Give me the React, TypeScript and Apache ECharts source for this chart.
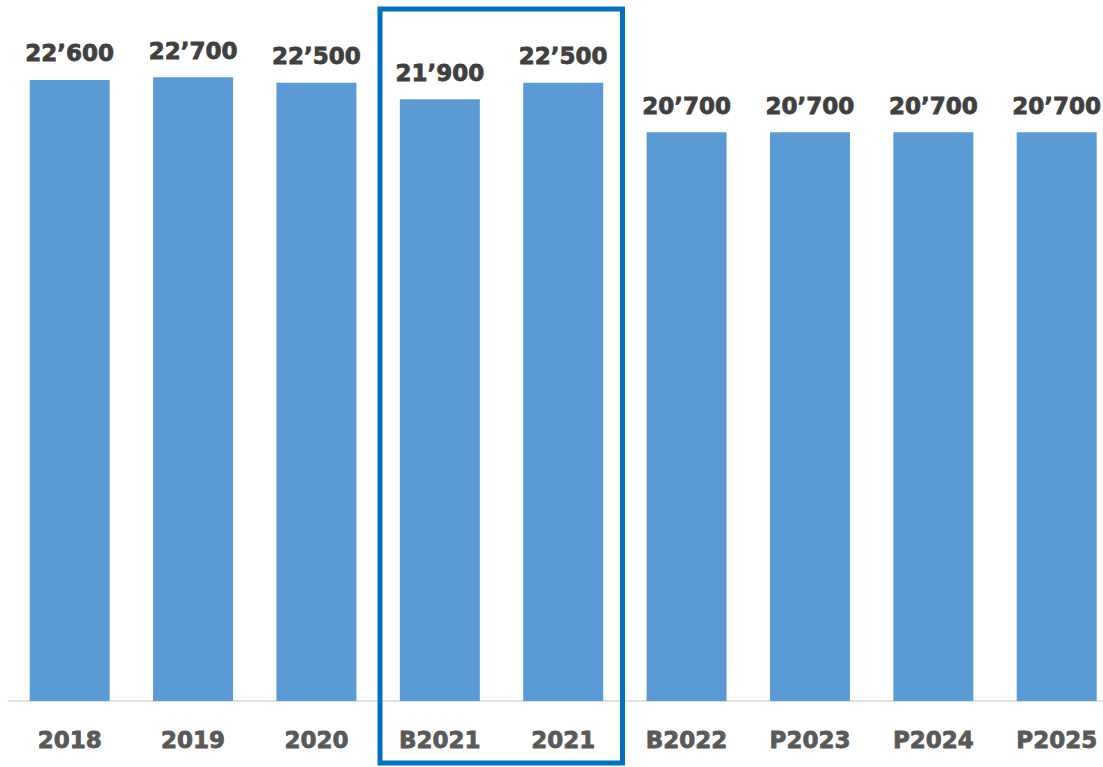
import React, { useEffect, useRef } from "react";
import * as echarts from "echarts";

const categories = ["2018", "2019", "2020", "B2021", "2021", "B2022", "P2023", "P2024", "P2025"];
const values = [22600, 22700, 22500, 21900, 22500, 20700, 20700, 20700, 20700];

const fmt = (v: number) => {
  const s = String(Math.round(v));
  return s.replace(/\B(?=(\d{3})+(?!\d))/g, "\u2019");
};

export default function App() {
  const ref = useRef<HTMLDivElement>(null);
  useEffect(() => {
    document.body.style.margin = "0";
    const chart = echarts.init(ref.current!, null, { renderer: "svg" });
    chart.setOption({
      animation: false,
      backgroundColor: "#ffffff",
      grid: { left: 8, top: 14, width: 1110.4, bottom: 66, containLabel: false, outerBoundsMode: "none" },
      xAxis: {
        type: "category",
        data: categories,
        axisLine: { show: true, lineStyle: { color: "#d9d9d9", width: 1.5 } },
        axisTick: { show: false },
        axisLabel: {
          color: "#595959",
          fontFamily: "DejaVu Sans",
          fontWeight: "bold",
          fontSize: 23,
          margin: 27,
          interval: 0,
          textBorderColor: "#595959",
          textBorderWidth: 0.8,
        },
      },
      yAxis: {
        type: "value",
        min: 0,
        max: 25000,
        show: false,
        splitLine: { show: false },
      },
      series: [
        {
          type: "bar",
          data: values,
          barWidth: 80,
          itemStyle: { color: "#5B9BD5" },
          label: {
            show: true,
            position: "top",
            distance: 15,
            color: "#404040",
            fontFamily: "DejaVu Sans",
            fontWeight: "bold",
            fontSize: 23,
            textBorderColor: "#404040",
            textBorderWidth: 0.8,
            formatter: (p: any) => fmt(p.value),
          },
        },
      ],
      graphic: [
        {
          type: "rect",
          shape: { x: 380, y: 9, width: 242.5, height: 754 },
          style: { fill: "none", stroke: "#0070C0", lineWidth: 5 },
          z: 10,
        },
      ],
    });
    return () => chart.dispose();
  }, []);
  return (
    <div style={{ position: "fixed", left: 0, top: 0, width: 1103, height: 767, overflow: "hidden" }}>
      <div ref={ref} style={{ width: 1120, height: 767 }} />
    </div>
  );
}
